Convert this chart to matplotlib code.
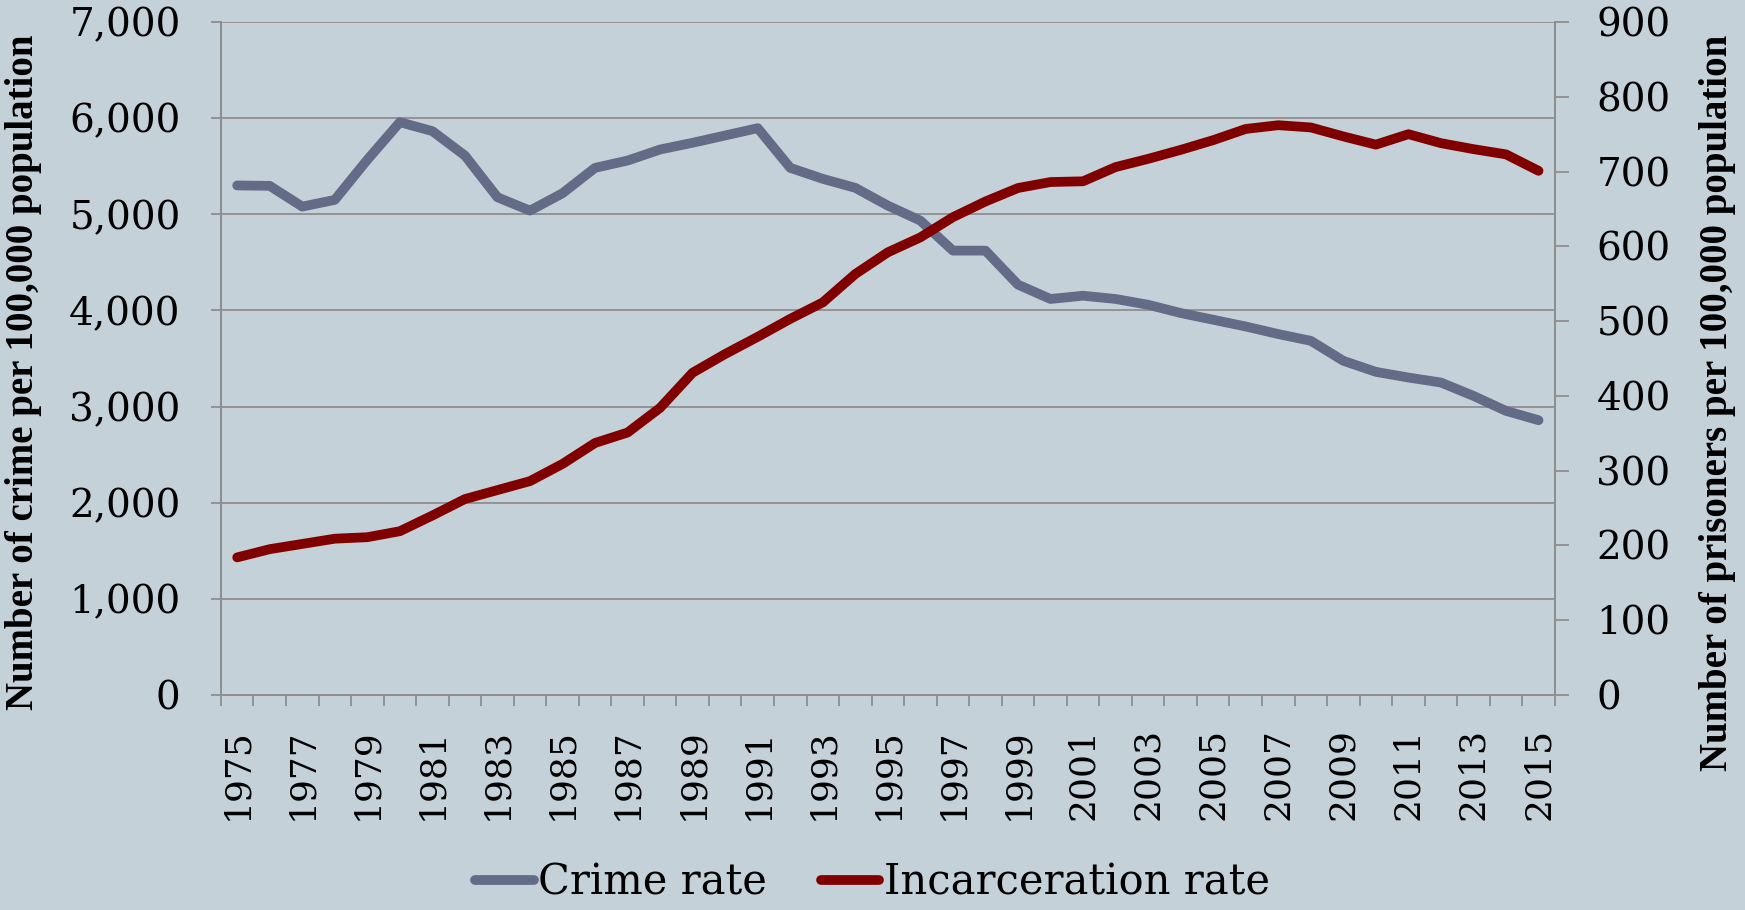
import matplotlib
matplotlib.use("Agg")
import matplotlib.pyplot as plt
from matplotlib.ticker import FuncFormatter, FixedLocator

# Crime vs incarceration, US, 1975-2015
years = list(range(1975, 2016))
crime_rate = [5300, 5296, 5080, 5150, 5567, 5958, 5865, 5611, 5177, 5038,
              5219, 5483, 5559, 5674, 5744, 5820, 5896, 5483, 5369, 5275,
              5090, 4934, 4622, 4622, 4268, 4119, 4153, 4119, 4059, 3973,
              3903, 3833, 3754, 3684, 3476, 3361, 3302, 3250, 3111, 2955,
              2858]
incarceration_rate = [184, 195, 202, 209, 211, 219, 240, 262, 274, 286,
                      309, 337, 351, 384, 431, 456, 479, 503, 525, 563,
                      592, 612, 639, 660, 678, 686, 687, 706, 717, 729,
                      742, 757, 762, 759, 747, 736, 750, 738, 730, 723,
                      701]
left_ticks = [0, 1000, 2000, 3000, 4000, 5000, 6000, 7000]
right_ticks = [0, 100, 200, 300, 400, 500, 600, 700, 800, 900]

bg = "#C5D1D8"
grid_col = "#8E8E8E"
crime_col = "#646B87"
inc_col = "#800000"

fig = plt.figure(figsize=(17.45, 9.10), dpi=100, facecolor=bg)
ax = fig.add_axes([0.1266, 0.2363, 0.7644, 0.7395], facecolor=bg)
ax2 = ax.twinx()

x = list(range(len(years)))
l1, = ax.plot(x, crime_rate, color=crime_col, lw=7, solid_capstyle="round",
              solid_joinstyle="round", label="Crime rate", zorder=3)
l2, = ax2.plot(x, incarceration_rate, color=inc_col, lw=7, solid_capstyle="round",
               solid_joinstyle="round", label="Incarceration rate", zorder=3)

ax.set_xlim(-0.5, len(years) - 0.5)
ax.set_ylim(0, 7000)
ax2.set_ylim(0, 900)

# left axis
ax.set_yticks(left_ticks)
ax.yaxis.set_major_formatter(FuncFormatter(lambda v, p: f"{int(v):,}"))
ax.grid(axis="y", color=grid_col, lw=1.3)
ax.set_axisbelow(True)
ax.tick_params(axis="y", length=7, width=1.3, color=grid_col, pad=22,
               labelsize=28)

# right axis
ax2.set_yticks(right_ticks)
ax2.tick_params(axis="y", length=10, width=1.3, color=grid_col, pad=20,
                labelsize=28)

# x axis: labels every other year, ticks between categories
ax.set_xticks(x[::2])
ax.set_xticklabels([str(y) for y in years[::2]], rotation=90)
ax.xaxis.set_minor_locator(FixedLocator([i - 0.5 for i in range(len(years) + 1)]))
ax.tick_params(axis="x", which="major", length=0, pad=24, labelsize=26)
ax.tick_params(axis="x", which="minor", length=8, width=1.3, color=grid_col)

for a in (ax, ax2):
    for s in a.spines.values():
        s.set_color(grid_col)
        s.set_linewidth(1.3)
    a.spines["top"].set_visible(False)
    for lab in a.get_xticklabels() + a.get_yticklabels():
        lab.set_family("DejaVu Serif")

ax.set_ylabel("Number of crime per 100,000 population", fontsize=28,
              fontweight="bold", family="Liberation Serif")
ax2.set_ylabel("Number of prisoners per 100,000 population", fontsize=28,
               fontweight="bold", family="Liberation Serif")
ax.yaxis.set_label_coords(-0.134, 0.48)
ax2.yaxis.set_label_coords(1.108, 0.434)

fig.legend(handles=[l1, l2], loc="center", bbox_to_anchor=(0.5, 0.03),
           ncol=2, frameon=False, handlelength=1.4, handletextpad=0.1,
           columnspacing=1.3, borderpad=0.1,
           prop={"family": "DejaVu Serif", "size": 30})

fig.savefig("out.png", dpi=100, facecolor=bg)
